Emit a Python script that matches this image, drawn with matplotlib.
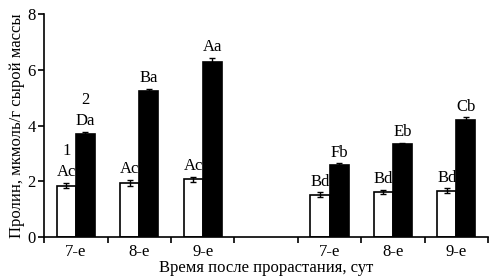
import numpy as np
import matplotlib
matplotlib.use("Agg")
import matplotlib.pyplot as plt

plt.rcParams['font.family'] = ['Liberation Serif', 'DejaVu Serif']

days = ["7-е", "8-е", "9-е", "7-е", "8-е", "9-е"]
slots = [0.5, 1.5, 2.5, 4.5, 5.5, 6.5]
v1 = [1.85, 1.95, 2.07, 1.52, 1.63, 1.67]
e1 = [0.10, 0.10, 0.10, 0.08, 0.07, 0.08]
v2 = [3.70, 5.22, 6.27, 2.58, 3.33, 4.20]
e2 = [0.08, 0.08, 0.15, 0.06, 0.06, 0.09]
lab1 = ["Ac", "Ac", "Ac", "Bd", "Bd", "Bd"]
lab2 = ["Da", "Ba", "Aa", "Fb", "Eb", "Cb"]

fig = plt.figure(figsize=(4.96, 2.78), dpi=100)
ax = fig.add_axes([0.089, 0.147, 0.895, 0.803])
w = 0.30
x = np.array(slots)
ax.bar(x - w / 2, v1, w, color="white", edgecolor="black", linewidth=1.2,
       yerr=e1, capsize=2.5, error_kw=dict(elinewidth=1.0, capthick=1.0))
ax.bar(x + w / 2, v2, w, color="black", edgecolor="black", linewidth=1.2,
       yerr=e2, capsize=2.5, error_kw=dict(elinewidth=1.0, capthick=1.0))
fs = 12
for xi, v, e, t in zip(x - w / 2, v1, e1, lab1):
    ax.text(xi, v + e + 0.1, t, ha="center", va="bottom", fontsize=fs)
for xi, v, e, t in zip(x + w / 2, v2, e2, lab2):
    ax.text(xi, v + e + 0.1, t, ha="center", va="bottom", fontsize=fs)
ax.text(x[0] - w / 2, v1[0] + e1[0] + 0.85, "1", ha="center", va="bottom", fontsize=fs)
ax.text(x[0] + w / 2, v2[0] + e2[0] + 0.85, "2", ha="center", va="bottom", fontsize=fs)

ax.set_xlim(0, 7)
ax.set_ylim(0, 8)
ax.set_yticks([0, 2, 4, 6, 8])
ax.set_xticks(range(8))
ax.set_xticklabels([])
ax.set_xticks(slots, minor=True)
ax.set_xticklabels(days, minor=True)
ax.tick_params(axis="x", which="minor", length=0, labelsize=fs, pad=5)
ax.tick_params(axis="x", which="major", length=4, width=1.2, direction="out")
ax.tick_params(axis="y", length=4, width=1.2, labelsize=fs, pad=2)
for s in ["top", "right"]:
    ax.spines[s].set_visible(False)
for s in ["left", "bottom"]:
    ax.spines[s].set_linewidth(1.2)
ax.set_ylabel("Пролин, мкмоль/г сырой массы", fontsize=fs, labelpad=2)
ax.set_xlabel("Время после прорастания, сут", fontsize=fs, labelpad=0)
fig.savefig("out.png", dpi=100)
